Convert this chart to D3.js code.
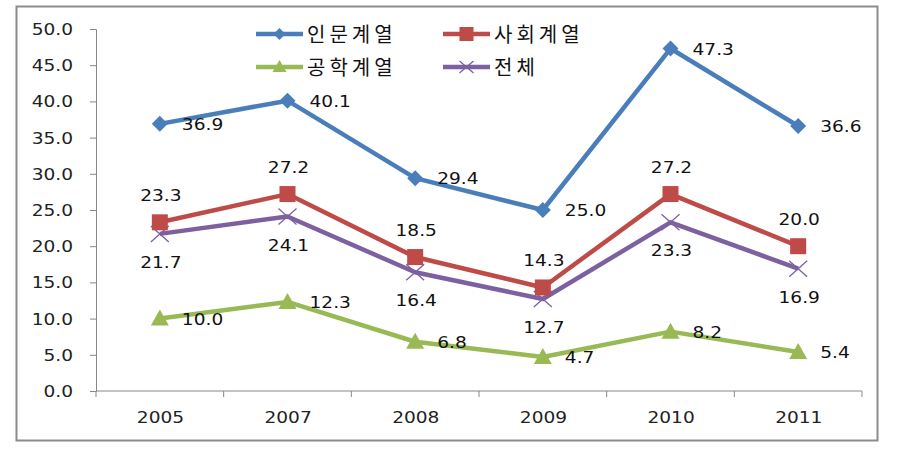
<!DOCTYPE html>
<html><head><meta charset="utf-8">
<script src="https://cdn.jsdelivr.net/npm/d3@7"></script>
<style>body{margin:0;background:#fff}svg{display:block}</style>
</head><body>
<svg id="c" width="911" height="449"></svg>
<script>
const years = ["2005","2007","2008","2009","2010","2011"];
const seriesNames = ["인문계열","사회계열","공학계열","전체"];
const humanities = [36.9,40.1,29.4,25.0,47.3,36.6];
const social = [23.3,27.2,18.5,14.3,27.2,20.0];
const engineering = [10.0,12.3,6.8,4.7,8.2,5.4];
const total = [21.7,24.1,16.4,12.7,23.3,16.9];
const yTicks = [0,5,10,15,20,25,30,35,40,45,50];

const svg = d3.select("#c");
svg.append("rect").attr("x",16.5).attr("y",6.5).attr("width",861).attr("height",434)
  .attr("fill","#fff").attr("stroke","#8c8c8c").attr("stroke-width",2);

const x = d3.scaleBand().domain(years).range([96,862]);
const y = d3.scaleLinear().domain([0,50]).range([391,29]);
const font = "'DejaVu Sans', Verdana, sans-serif";
const SX = 1.24;

const yAxis = svg.append("g").attr("transform","translate(96,0)")
  .call(d3.axisLeft(y).tickValues(yTicks).tickFormat(d3.format(".1f")).tickSizeOuter(0).tickSize(6));
const xAxis = svg.append("g").attr("transform","translate(0,391)")
  .call(d3.axisBottom(x).tickSize(0));
const bounds = years.map(d=>x(d)).concat([862]);
xAxis.selectAll(".bt").data(bounds).enter().append("line")
  .attr("x1",d=>d).attr("x2",d=>d).attr("y1",0).attr("y2",6).attr("stroke","#888");
[yAxis,xAxis].forEach(a=>{
  a.attr("font-size",null).attr("font-family",null);
  a.selectAll("path,line").attr("stroke","#888");
  a.selectAll("text").style("font-family",font).style("font-size","15px")
    .attr("fill","#222").attr("transform",`scale(${SX},1)`);
});
yAxis.selectAll("text").attr("x",-23/SX).attr("dy","0.36em");
xAxis.selectAll("text").attr("x",0.5).attr("y",32).attr("dy",null);
xAxis.select(".domain").attr("d","M96,0H862");

const series = [
  {name:seriesNames[0], vals:humanities, color:"#4a7ebb", marker:"diamond", lab:"right"},
  {name:seriesNames[1], vals:social, color:"#be4b48", marker:"square", lab:"above"},
  {name:seriesNames[2], vals:engineering, color:"#98b954", marker:"triangle", lab:"right"},
  {name:seriesNames[3], vals:total, color:"#7d60a0", marker:"x", lab:"below"}
];
const cx = d => x(d)+x.bandwidth()/2;
const line = d3.line().x(d=>cx(d.k)).y(d=>y(d.v));

function drawMarker(g, type, color, px, py){
  if(type==="diamond"){
    g.append("path").attr("d",`M${px},${py-8}L${px+8},${py}L${px},${py+8}L${px-8},${py}Z`).attr("fill",color);
  } else if(type==="square"){
    g.append("rect").attr("x",px-8).attr("y",py-8).attr("width",16).attr("height",16).attr("fill",color);
  } else if(type==="triangle"){
    g.append("path").attr("d",`M${px},${py-9}L${px+9},${py+7}L${px-9},${py+7}Z`).attr("fill",color);
  } else {
    g.append("path").attr("d",`M${px-9},${py-8}L${px+9},${py+8}M${px-9},${py+8}L${px+9},${py-8}`)
      .attr("stroke",color).attr("stroke-width",1.3).attr("fill","none");
  }
}

const order = [2,0,3,1];
order.forEach(i=>{
  const s = series[i];
  const pts = years.map((k,j)=>({k, v:s.vals[j]}));
  const g = svg.append("g");
  g.append("path").datum(pts).attr("d",line).attr("fill","none").attr("stroke",s.color).attr("stroke-width",4.5).attr("stroke-linejoin","round");
  pts.forEach(p=>drawMarker(g, s.marker, s.color, cx(p.k), y(p.v)));
});
series.forEach(s=>{
  years.forEach((k,j)=>{
    const px = cx(k), py = y(s.vals[j]);
    let tx=px, ty=py, anchor="middle";
    if(s.lab==="right"){ tx=px+22; ty=py+6; anchor="start"; }
    else if(s.lab==="above"){ ty=py-21; tx=px+1; }
    else { ty=py+34; tx=px+1; }
    svg.append("g").attr("transform",`translate(${tx},${ty}) scale(${SX},1)`)
      .append("text").attr("text-anchor",anchor)
      .style("font-family",font).style("font-size","15px")
      .attr("fill","#111").text(s.vals[j].toFixed(1));
  });
});

// legend
const legPos = [[256,34],[443,34],[256,67],[443,67]];
series.forEach((s,i)=>{
  const [lx,ly] = legPos[i];
  const g = svg.append("g");
  g.append("line").attr("x1",lx).attr("x2",lx+47).attr("y1",ly).attr("y2",ly).attr("stroke",s.color).attr("stroke-width",4.5);
  const mx = lx+23.5;
  if(s.marker==="diamond") g.append("path").attr("d",`M${mx},${ly-6}L${mx+6},${ly}L${mx},${ly+6}L${mx-6},${ly}Z`).attr("fill",s.color);
  else if(s.marker==="square") g.append("rect").attr("x",mx-7).attr("y",ly-7).attr("width",14).attr("height",14).attr("fill",s.color);
  else if(s.marker==="triangle") g.append("path").attr("d",`M${mx},${ly-7}L${mx+7},${ly+5}L${mx-7},${ly+5}Z`).attr("fill",s.color);
  else g.append("path").attr("d",`M${mx-7},${ly-6}L${mx+7},${ly+6}M${mx-7},${ly+6}L${mx+7},${ly-6}`).attr("stroke",s.color).attr("stroke-width",1.3);
  g.append("text").attr("x",lx+51).attr("y",ly+8).style("font-family","'Noto Sans CJK KR', sans-serif")
    .style("font-size","20px").style("letter-spacing","4px").attr("fill","#111").text(s.name);
});
</script>
</body></html>
